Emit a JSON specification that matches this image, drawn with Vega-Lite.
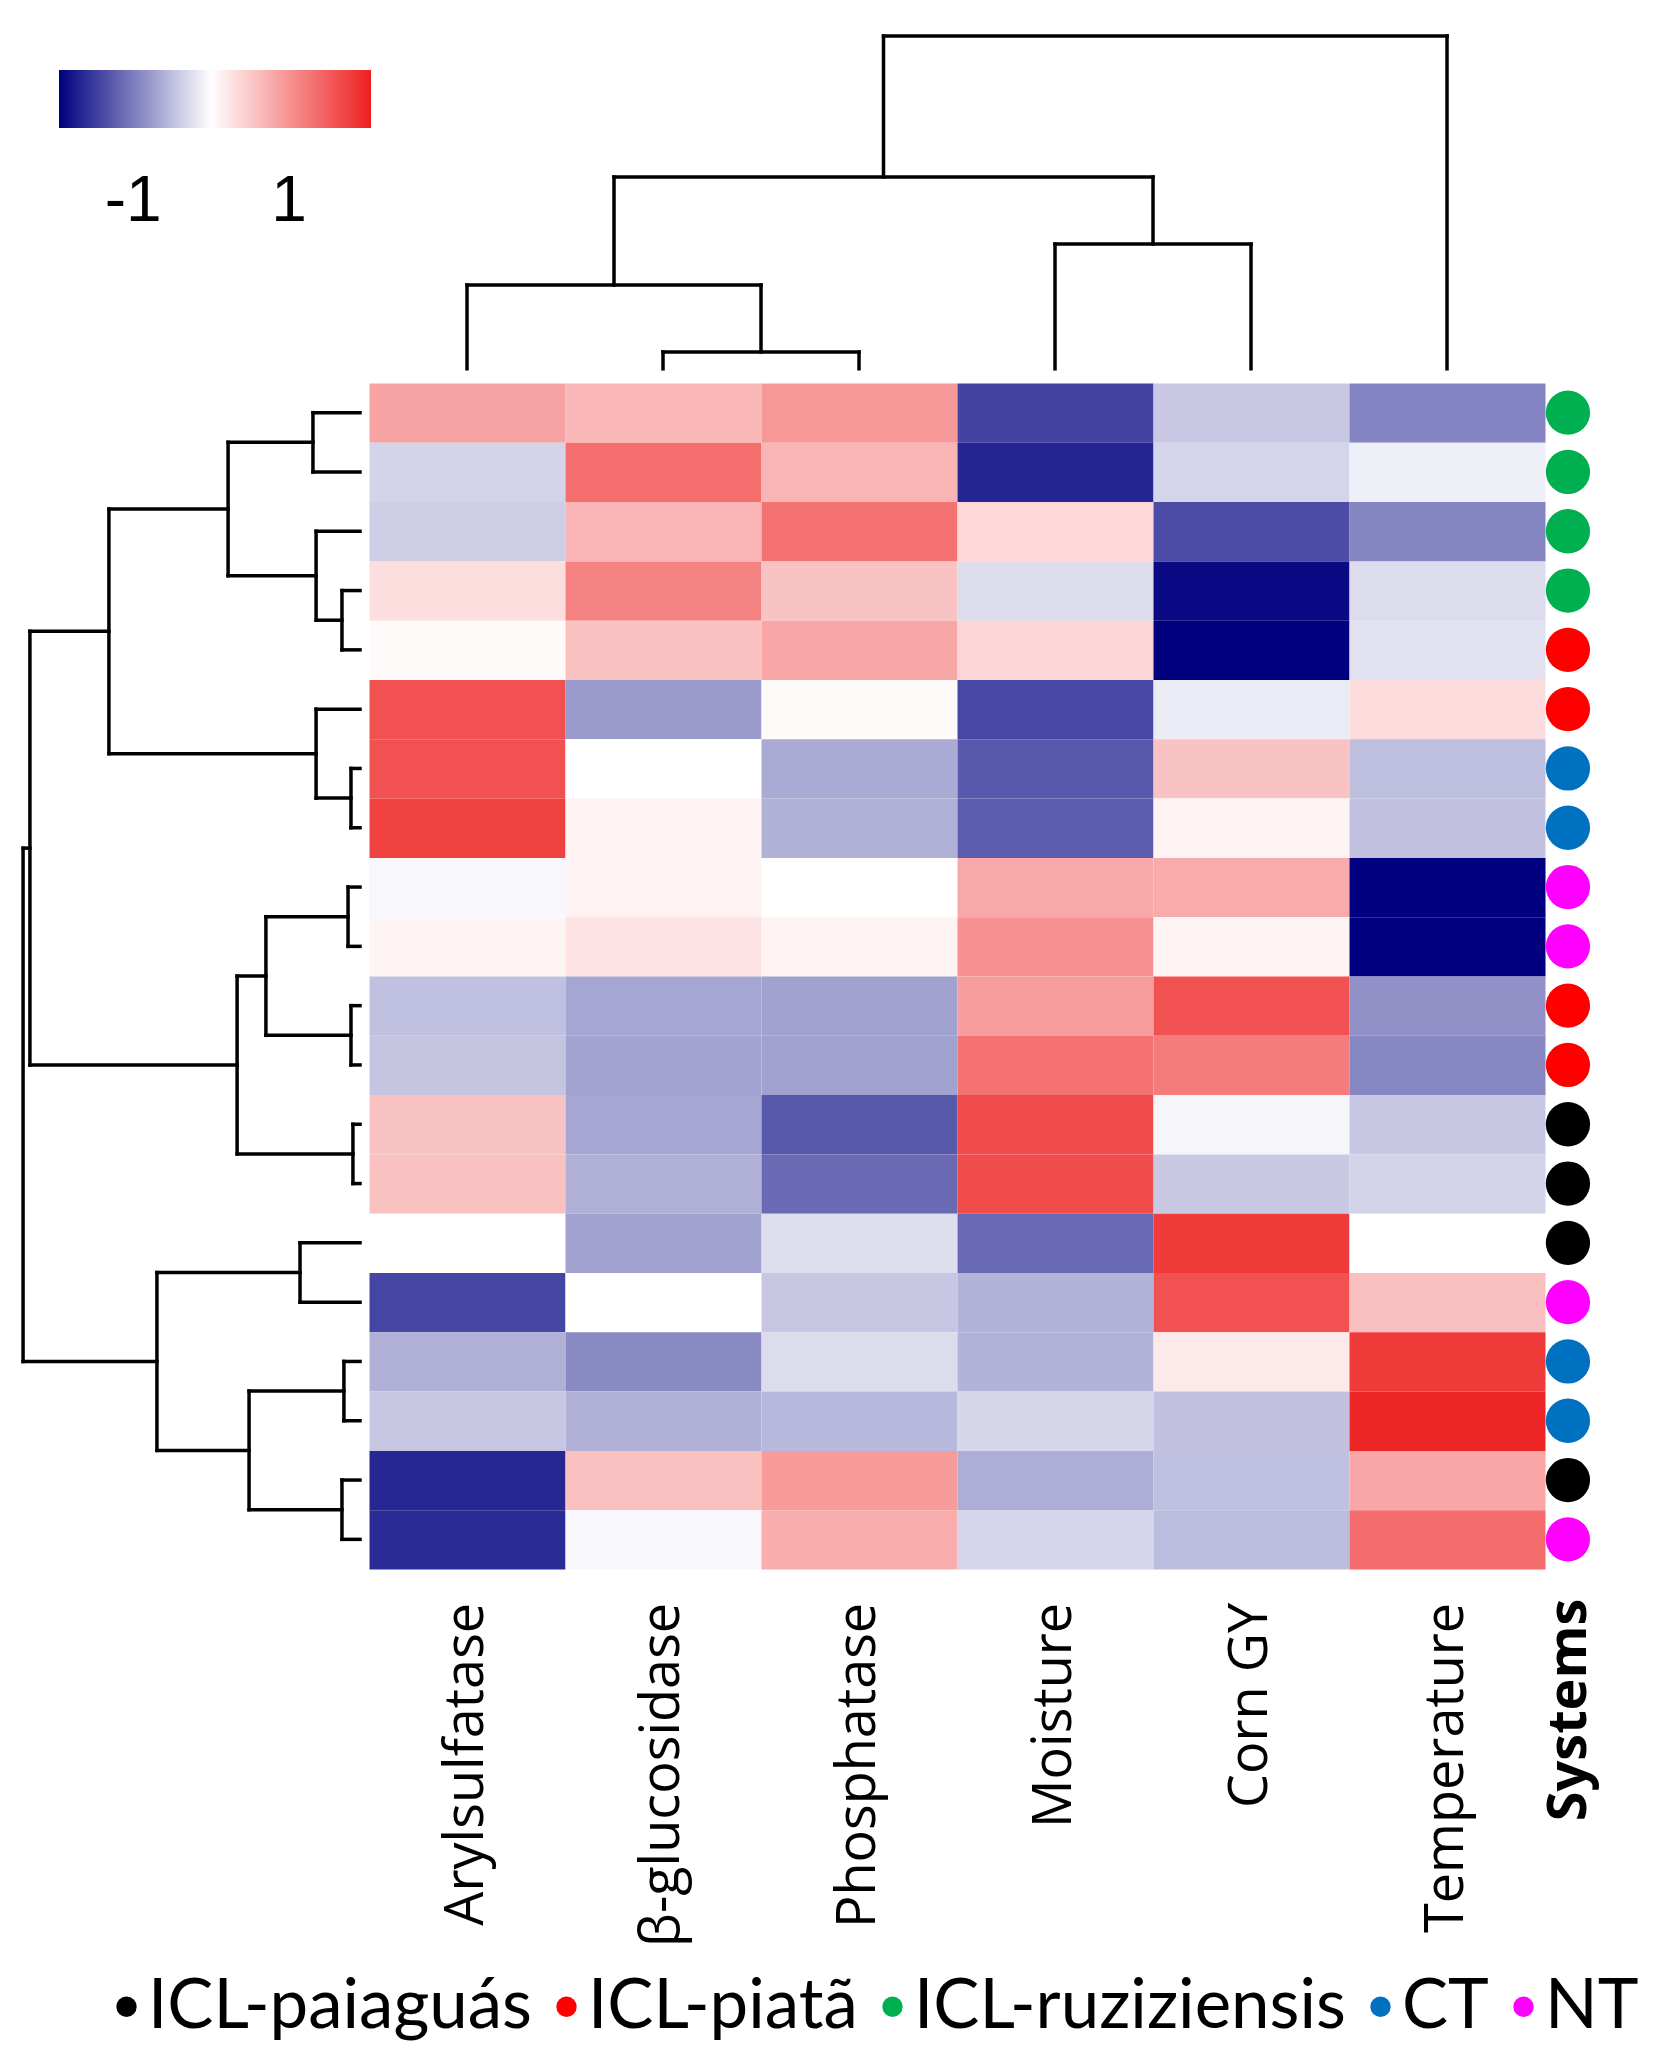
{
  "$schema": "https://vega.github.io/schema/vega-lite/v6.json",
  "width": 1662,
  "height": 2066,
  "autosize": {"type": "fit", "contains": "padding"},
  "padding": 0,
  "background": "white",
  "config": {"view": {"stroke": null}},
  "datasets": {
    "cells": [
      {"row":0,"col":0,"value":0.85},{"row":0,"col":1,"value":0.66},{"row":0,"col":2,"value":0.95},{"row":0,"col":3,"value":-1.44},{"row":0,"col":4,"value":-0.42},{"row":0,"col":5,"value":-0.94},
      {"row":1,"col":0,"value":-0.34},{"row":1,"col":1,"value":1.33},{"row":1,"col":2,"value":0.68},{"row":1,"col":3,"value":-1.67},{"row":1,"col":4,"value":-0.33},{"row":1,"col":5,"value":-0.12},
      {"row":2,"col":0,"value":-0.38},{"row":2,"col":1,"value":0.68},{"row":2,"col":2,"value":1.30},{"row":2,"col":3,"value":0.36},{"row":2,"col":4,"value":-1.37},{"row":2,"col":5,"value":-0.93},
      {"row":3,"col":0,"value":0.30},{"row":3,"col":1,"value":1.15},{"row":3,"col":2,"value":0.55},{"row":3,"col":3,"value":-0.26},{"row":3,"col":4,"value":-1.87},{"row":3,"col":5,"value":-0.27},
      {"row":4,"col":0,"value":0.05},{"row":4,"col":1,"value":0.57},{"row":4,"col":2,"value":0.82},{"row":4,"col":3,"value":0.38},{"row":4,"col":4,"value":-2.0},{"row":4,"col":5,"value":-0.23},
      {"row":5,"col":0,"value":1.60},{"row":5,"col":1,"value":-0.77},{"row":5,"col":2,"value":0.05},{"row":5,"col":3,"value":-1.40},{"row":5,"col":4,"value":-0.15},{"row":5,"col":5,"value":0.32},
      {"row":6,"col":0,"value":1.60},{"row":6,"col":1,"value":0.0},{"row":6,"col":2,"value":-0.65},{"row":6,"col":3,"value":-1.28},{"row":6,"col":4,"value":0.55},{"row":6,"col":5,"value":-0.50},
      {"row":7,"col":0,"value":1.75},{"row":7,"col":1,"value":0.10},{"row":7,"col":2,"value":-0.60},{"row":7,"col":3,"value":-1.25},{"row":7,"col":4,"value":0.10},{"row":7,"col":5,"value":-0.47},
      {"row":8,"col":0,"value":-0.05},{"row":8,"col":1,"value":0.12},{"row":8,"col":2,"value":0.0},{"row":8,"col":3,"value":0.80},{"row":8,"col":4,"value":0.77},{"row":8,"col":5,"value":-2.0},
      {"row":9,"col":0,"value":0.10},{"row":9,"col":1,"value":0.26},{"row":9,"col":2,"value":0.12},{"row":9,"col":3,"value":1.0},{"row":9,"col":4,"value":0.10},{"row":9,"col":5,"value":-2.0},
      {"row":10,"col":0,"value":-0.48},{"row":10,"col":1,"value":-0.68},{"row":10,"col":2,"value":-0.71},{"row":10,"col":3,"value":0.90},{"row":10,"col":4,"value":1.60},{"row":10,"col":5,"value":-0.84},
      {"row":11,"col":0,"value":-0.44},{"row":11,"col":1,"value":-0.70},{"row":11,"col":2,"value":-0.71},{"row":11,"col":3,"value":1.30},{"row":11,"col":4,"value":1.20},{"row":11,"col":5,"value":-0.92},
      {"row":12,"col":0,"value":0.55},{"row":12,"col":1,"value":-0.68},{"row":12,"col":2,"value":-1.27},{"row":12,"col":3,"value":1.65},{"row":12,"col":4,"value":-0.08},{"row":12,"col":5,"value":-0.43},
      {"row":13,"col":0,"value":0.57},{"row":13,"col":1,"value":-0.60},{"row":13,"col":2,"value":-1.15},{"row":13,"col":3,"value":1.65},{"row":13,"col":4,"value":-0.41},{"row":13,"col":5,"value":-0.34},
      {"row":14,"col":0,"value":0.0},{"row":14,"col":1,"value":-0.71},{"row":14,"col":2,"value":-0.25},{"row":14,"col":3,"value":-1.15},{"row":14,"col":4,"value":1.80},{"row":14,"col":5,"value":0.0},
      {"row":15,"col":0,"value":-1.42},{"row":15,"col":1,"value":0.0},{"row":15,"col":2,"value":-0.43},{"row":15,"col":3,"value":-0.58},{"row":15,"col":4,"value":1.60},{"row":15,"col":5,"value":0.58},
      {"row":16,"col":0,"value":-0.60},{"row":16,"col":1,"value":-0.90},{"row":16,"col":2,"value":-0.27},{"row":16,"col":3,"value":-0.58},{"row":16,"col":4,"value":0.20},{"row":16,"col":5,"value":1.80},
      {"row":17,"col":0,"value":-0.43},{"row":17,"col":1,"value":-0.60},{"row":17,"col":2,"value":-0.54},{"row":17,"col":3,"value":-0.31},{"row":17,"col":4,"value":-0.47},{"row":17,"col":5,"value":2.0},
      {"row":18,"col":0,"value":-1.65},{"row":18,"col":1,"value":0.57},{"row":18,"col":2,"value":0.92},{"row":18,"col":3,"value":-0.63},{"row":18,"col":4,"value":-0.48},{"row":18,"col":5,"value":0.82},
      {"row":19,"col":0,"value":-1.62},{"row":19,"col":1,"value":-0.05},{"row":19,"col":2,"value":0.75},{"row":19,"col":3,"value":-0.33},{"row":19,"col":4,"value":-0.51},{"row":19,"col":5,"value":1.35}
    ],
    "systems": [
      {"row":0,"system":"ICL-ruziziensis"},{"row":1,"system":"ICL-ruziziensis"},{"row":2,"system":"ICL-ruziziensis"},{"row":3,"system":"ICL-ruziziensis"},
      {"row":4,"system":"ICL-piatã"},{"row":5,"system":"ICL-piatã"},{"row":6,"system":"CT"},{"row":7,"system":"CT"},
      {"row":8,"system":"NT"},{"row":9,"system":"NT"},{"row":10,"system":"ICL-piatã"},{"row":11,"system":"ICL-piatã"},
      {"row":12,"system":"ICL-paiaguás"},{"row":13,"system":"ICL-paiaguás"},{"row":14,"system":"ICL-paiaguás"},{"row":15,"system":"NT"},
      {"row":16,"system":"CT"},{"row":17,"system":"CT"},{"row":18,"system":"ICL-paiaguás"},{"row":19,"system":"NT"}
    ],
    "columns": [
      {"col":0,"name":"Arylsulfatase"},{"col":1,"name":"β-glucosidase"},{"col":2,"name":"Phosphatase"},
      {"col":3,"name":"Moisture"},{"col":4,"name":"Corn GY"},{"col":5,"name":"Temperature"}
    ],
    "segments": [
      {"x":1.5,"y":-0.24,"x2":1.5,"y2":-0.523},{"x":2.5,"y":-0.24,"x2":2.5,"y2":-0.523},{"x":1.5,"y":-0.523,"x2":2.5,"y2":-0.523},
      {"x":0.5,"y":-0.24,"x2":0.5,"y2":-1.653},{"x":2.0,"y":-0.523,"x2":2.0,"y2":-1.653},{"x":0.5,"y":-1.653,"x2":2.0,"y2":-1.653},
      {"x":3.5,"y":-0.24,"x2":3.5,"y2":-2.344},{"x":4.5,"y":-0.24,"x2":4.5,"y2":-2.344},{"x":3.5,"y":-2.344,"x2":4.5,"y2":-2.344},
      {"x":1.25,"y":-1.653,"x2":1.25,"y2":-3.474},{"x":4.0,"y":-2.344,"x2":4.0,"y2":-3.474},{"x":1.25,"y":-3.474,"x2":4.0,"y2":-3.474},
      {"x":2.625,"y":-3.474,"x2":2.625,"y2":-5.852},{"x":5.5,"y":-0.24,"x2":5.5,"y2":-5.852},{"x":2.625,"y":-5.852,"x2":5.5,"y2":-5.852},

      {"x":-0.046,"y":0.5,"x2":-0.286,"y2":0.5},{"x":-0.046,"y":1.5,"x2":-0.286,"y2":1.5},{"x":-0.286,"y":0.5,"x2":-0.286,"y2":1.5},
      {"x":-0.046,"y":3.5,"x2":-0.138,"y2":3.5},{"x":-0.046,"y":4.5,"x2":-0.138,"y2":4.5},{"x":-0.138,"y":3.5,"x2":-0.138,"y2":4.5},
      {"x":-0.046,"y":2.5,"x2":-0.270,"y2":2.5},{"x":-0.138,"y":4.0,"x2":-0.270,"y2":4.0},{"x":-0.270,"y":2.5,"x2":-0.270,"y2":4.0},
      {"x":-0.286,"y":1.0,"x2":-0.719,"y2":1.0},{"x":-0.270,"y":3.25,"x2":-0.719,"y2":3.25},{"x":-0.719,"y":1.0,"x2":-0.719,"y2":3.25},
      {"x":-0.046,"y":6.5,"x2":-0.092,"y2":6.5},{"x":-0.046,"y":7.5,"x2":-0.092,"y2":7.5},{"x":-0.092,"y":6.5,"x2":-0.092,"y2":7.5},
      {"x":-0.046,"y":5.5,"x2":-0.270,"y2":5.5},{"x":-0.092,"y":7.0,"x2":-0.270,"y2":7.0},{"x":-0.270,"y":5.5,"x2":-0.270,"y2":7.0},
      {"x":-0.719,"y":2.125,"x2":-1.327,"y2":2.125},{"x":-0.270,"y":6.25,"x2":-1.327,"y2":6.25},{"x":-1.327,"y":2.125,"x2":-1.327,"y2":6.25},
      {"x":-0.046,"y":8.5,"x2":-0.107,"y2":8.5},{"x":-0.046,"y":9.5,"x2":-0.107,"y2":9.5},{"x":-0.107,"y":8.5,"x2":-0.107,"y2":9.5},
      {"x":-0.046,"y":10.5,"x2":-0.092,"y2":10.5},{"x":-0.046,"y":11.5,"x2":-0.092,"y2":11.5},{"x":-0.092,"y":10.5,"x2":-0.092,"y2":11.5},
      {"x":-0.107,"y":9.0,"x2":-0.526,"y2":9.0},{"x":-0.092,"y":11.0,"x2":-0.526,"y2":11.0},{"x":-0.526,"y":9.0,"x2":-0.526,"y2":11.0},
      {"x":-0.046,"y":12.5,"x2":-0.082,"y2":12.5},{"x":-0.046,"y":13.5,"x2":-0.082,"y2":13.5},{"x":-0.082,"y":12.5,"x2":-0.082,"y2":13.5},
      {"x":-0.526,"y":10.0,"x2":-0.673,"y2":10.0},{"x":-0.082,"y":13.0,"x2":-0.673,"y2":13.0},{"x":-0.673,"y":10.0,"x2":-0.673,"y2":13.0},
      {"x":-1.327,"y":4.1875,"x2":-1.730,"y2":4.1875},{"x":-0.673,"y":11.5,"x2":-1.730,"y2":11.5},{"x":-1.730,"y":4.1875,"x2":-1.730,"y2":11.5},
      {"x":-0.046,"y":14.5,"x2":-0.352,"y2":14.5},{"x":-0.046,"y":15.5,"x2":-0.352,"y2":15.5},{"x":-0.352,"y":14.5,"x2":-0.352,"y2":15.5},
      {"x":-0.046,"y":16.5,"x2":-0.128,"y2":16.5},{"x":-0.046,"y":17.5,"x2":-0.128,"y2":17.5},{"x":-0.128,"y":16.5,"x2":-0.128,"y2":17.5},
      {"x":-0.046,"y":18.5,"x2":-0.138,"y2":18.5},{"x":-0.046,"y":19.5,"x2":-0.138,"y2":19.5},{"x":-0.138,"y":18.5,"x2":-0.138,"y2":19.5},
      {"x":-0.128,"y":17.0,"x2":-0.612,"y2":17.0},{"x":-0.138,"y":19.0,"x2":-0.612,"y2":19.0},{"x":-0.612,"y":17.0,"x2":-0.612,"y2":19.0},
      {"x":-0.352,"y":15.0,"x2":-1.082,"y2":15.0},{"x":-0.612,"y":18.0,"x2":-1.082,"y2":18.0},{"x":-1.082,"y":15.0,"x2":-1.082,"y2":18.0},
      {"x":-1.730,"y":7.84375,"x2":-1.765,"y2":7.84375},{"x":-1.082,"y":16.5,"x2":-1.765,"y2":16.5},{"x":-1.765,"y":7.84375,"x2":-1.765,"y2":16.5}
    ]
  },
  "layer": [
    {
      "data": {"name": "cells"},
      "mark": {"type": "rect", "stroke": null},
      "encoding": {
        "x": {"field": "col", "type": "quantitative", "bin": {"step": 1, "extent": [0, 6]}, "axis": null,
              "scale": {"domain": [-1.8827, 6.5969], "nice": false, "zero": false}},
        "y": {"field": "row", "type": "quantitative", "bin": {"step": 1, "extent": [0, 20]}, "axis": null,
              "scale": {"domain": [-6.4587, 28.381], "nice": false, "zero": false, "reverse": true}},
        "fill": {"field": "value", "type": "quantitative",
                 "scale": {"domain": [-1.95, 0, 2.05], "range": ["#000080", "#ffffff", "#ee2020"], "interpolate": "rgb", "clamp": true},
                 "legend": {"orient": "none", "legendX": 59, "legendY": 70, "direction": "horizontal",
                            "gradientLength": 312, "gradientThickness": 58, "title": null, "values": [-1, 1],
                            "labelExpr": "toString(datum.value)",
                            "labelFont": "Liberation Sans", "labelFontSize": 64, "labelOffset": 42, "labelColor": "#000000",
                            "gradientStrokeWidth": 0, "padding": 0}}
      }
    },
    {
      "data": {"name": "segments"},
      "mark": {"type": "rule", "color": "#000000", "strokeWidth": 3.5, "strokeCap": "square"},
      "encoding": {
        "x": {"field": "x", "type": "quantitative", "scale": {"domain": [-1.8827, 6.5969], "nice": false, "zero": false}},
        "y": {"field": "y", "type": "quantitative", "scale": {"domain": [-6.4587, 28.381], "nice": false, "zero": false, "reverse": true}},
        "x2": {"field": "x2"},
        "y2": {"field": "y2"}
      }
    },
    {
      "data": {"name": "systems"},
      "mark": {"type": "circle", "size": 1960, "opacity": 1},
      "encoding": {
        "x": {"datum": 6.117, "type": "quantitative", "scale": {"domain": [-1.8827, 6.5969], "nice": false, "zero": false}},
        "y": {"field": "row", "type": "quantitative", "bin": {"step": 1, "extent": [0, 20]},
              "scale": {"domain": [-6.4587, 28.381], "nice": false, "zero": false, "reverse": true}},
        "color": {"field": "system", "type": "nominal",
                  "scale": {"domain": ["ICL-paiaguás", "ICL-piatã", "ICL-ruziziensis", "CT", "NT"],
                            "range": ["#000000", "#ff0000", "#00b050", "#0070c0", "#ff00ff"]},
                  "legend": {"orient": "none", "legendX": 92, "legendY": 1972, "direction": "horizontal", "columns": 5,
                             "title": null, "labelFont": "Lato", "labelFontSize": 69, "labelColor": "#000000",
                             "symbolType": "circle", "symbolSize": 415, "symbolStrokeWidth": 0, "symbolOpacity": 1,
                             "labelOffset": -13, "columnPadding": -31, "padding": 0, "labelLimit": 1000}}
      }
    },
    {
      "data": {"name": "columns"},
      "mark": {"type": "text", "angle": 270, "align": "right", "baseline": "middle", "font": "Open Sans", "fontSize": 54, "color": "#000000"},
      "encoding": {
        "x": {"field": "col", "type": "quantitative", "bin": {"step": 1, "extent": [0, 6]},
              "scale": {"domain": [-1.8827, 6.5969], "nice": false, "zero": false}},
        "y": {"datum": 20.57, "type": "quantitative", "scale": {"domain": [-6.4587, 28.381], "nice": false, "zero": false, "reverse": true}},
        "text": {"field": "name"}
      }
    },
    {
      "data": {"values": [{"label": "Systems"}]},
      "mark": {"type": "text", "angle": 270, "align": "right", "baseline": "middle", "font": "Open Sans", "fontSize": 54, "fontWeight": "bold", "color": "#000000"},
      "encoding": {
        "x": {"datum": 6.13, "type": "quantitative", "scale": {"domain": [-1.8827, 6.5969], "nice": false, "zero": false}},
        "y": {"datum": 20.5, "type": "quantitative", "scale": {"domain": [-6.4587, 28.381], "nice": false, "zero": false, "reverse": true}},
        "text": {"field": "label"}
      }
    }
  ]
}
